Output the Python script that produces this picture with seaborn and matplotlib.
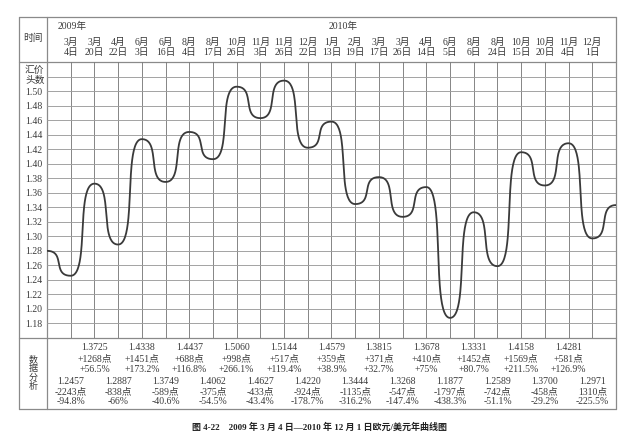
import numpy as np
import matplotlib
matplotlib.use("Agg")
import matplotlib.pyplot as plt
from matplotlib.transforms import blended_transform_factory
import seaborn as sns

# fechas del encabezado
meses = ["3月", "3月", "4月", "6月", "6月", "8月", "8月", "10月", "11月", "11月", "12月",
         "1月", "2月", "3月", "3月", "4月", "6月", "8月", "8月", "10月", "10月", "11月", "12月"]
dias = ["4日", "20日", "22日", "3日", "16日", "4日", "17日", "26日", "3日", "26日", "22日",
        "13日", "19日", "17日", "26日", "14日", "5日", "6日", "24日", "15日", "20日", "4日", "1日"]

# puntos extremos de la curva (posicion -1 y 23 son los bordes del cuadro)
posicion = list(range(-1, 24))
cotizacion = [1.2800, 1.2457, 1.3725, 1.2887, 1.4338, 1.3749, 1.4437, 1.4062, 1.5060,
              1.4627, 1.5144, 1.4220, 1.4579, 1.3444, 1.3815, 1.3268, 1.3678, 1.1877,
              1.3331, 1.2589, 1.4158, 1.3700, 1.4281, 1.2971, 1.3430]

# analisis de datos: maximos (fila de arriba) y minimos (fila de abajo)
alza_puntos = ["+1268点", "+1451点", "+688点", "+998点", "+517点", "+359点", "+371点",
               "+410点", "+1452点", "+1569点", "+581点"]
alza_pct = ["+56.5%", "+173.2%", "+116.8%", "+266.1%", "+119.4%", "+38.9%", "+32.7%",
            "+75%", "+80.7%", "+211.5%", "+126.9%"]
baja_puntos = ["-2243点", "-838点", "-589点", "-375点", "-433点", "-924点", "-1135点",
               "-547点", "-1797点", "-742点", "-458点", "1310点"]
baja_pct = ["-94.8%", "-66%", "-40.6%", "-54.5%", "-43.4%", "-178.7%", "-316.2%",
            "-147.4%", "-438.3%", "-51.1%", "-29.2%", "-225.5%"]

yticks = [1.18, 1.20, 1.22, 1.24, 1.26, 1.28, 1.30, 1.32, 1.34, 1.36, 1.38, 1.40,
          1.42, 1.44, 1.46, 1.48, 1.50, 1.52]

sns.set_theme(style="white")
fuente = ["Liberation Serif", "Noto Sans CJK SC", "DejaVu Sans"]
plt.rcParams["font.family"] = fuente
txt = "#3a3a3a"
linea = "#8a8a8a"


def suavizar(xs, ys, a=0.8, n=50):
    # bezier cubica con tangente horizontal en cada extremo
    t = np.linspace(0, 1, n)
    b = [(1 - t) ** 3, 3 * t * (1 - t) ** 2, 3 * t ** 2 * (1 - t), t ** 3]
    cx, cy = [], []
    for x0, y0, x1, y1 in zip(xs[:-1], ys[:-1], xs[1:], ys[1:]):
        dx = x1 - x0
        px = [x0, x0 + a * dx, x1 - a * dx, x1]
        py = [y0, y0, y1, y1]
        cx.extend(sum(bi * p for bi, p in zip(b, px)))
        cy.extend(sum(bi * p for bi, p in zip(b, py)))
    return np.array(cx), np.array(cy)


W, H = 629, 442
fig = plt.figure(figsize=(W / 100, H / 100), dpi=100)
fondo = fig.add_axes([0, 0, 1, 1], zorder=0)
fondo.set_xlim(0, W)
fondo.set_ylim(H, 0)
fondo.axis("off")

# cuadro de la tabla
x_izq, x_col, x_der = 19, 47, 616
y_sup, y_enc, y_graf, y_inf = 17, 62, 338, 409
for yy in [y_sup, y_enc, y_graf, y_inf]:
    fondo.plot([x_izq, x_der], [yy, yy], color=linea, lw=0.9)
for xx in [x_izq, x_col, x_der]:
    fondo.plot([xx, xx], [y_sup, y_inf], color=linea, lw=0.9)

ax = fig.add_axes([x_col / W, 1 - y_graf / H, (x_der - x_col) / W, (y_graf - y_enc) / H], zorder=1)
ax.patch.set_alpha(0)
ax.set_xlim(-1, 23)
ax.set_ylim(1.16, 1.54)
ax.set_xticks(range(23))
ax.set_xticklabels([])
ax.set_yticks(yticks)
ax.set_yticklabels([f"{v:.2f}" for v in yticks[:-1]] + [""])
ax.tick_params(axis="both", length=0)
ax.tick_params(axis="y", pad=15.8, labelsize=7, labelcolor=txt)
for lab in ax.get_yticklabels():
    lab.set_ha("left")
ax.grid(True, axis="x", color="#7c7c7c", lw=0.65)
ax.grid(True, axis="y", color="#9c9c9c", lw=0.65)
for s in ax.spines.values():
    s.set_visible(False)

cx, cy = suavizar(posicion, cotizacion)
sns.lineplot(x=cx, y=cy, sort=False, estimator=None, ax=ax, color="#3a3a3a", linewidth=1.3)
ax.set_xlabel("")
ax.set_ylabel("")

tr = blended_transform_factory(ax.transData, fondo.transData)

# encabezado
fondo.text(33, 38, "时间", ha="center", va="center", fontsize=7, color=txt)
fondo.text(58, 26, "2009年", ha="left", va="center", fontsize=7, color=txt)
fondo.text(329, 26, "2010年", ha="left", va="center", fontsize=7, color=txt)
for i, (m, d) in enumerate(zip(meses, dias)):
    ax.text(i, 42, m, transform=tr, ha="center", va="center", fontsize=7, color=txt)
    ax.text(i, 52, d, transform=tr, ha="center", va="center", fontsize=7, color=txt)

fondo.text(25, 70, "汇价", ha="left", va="center", fontsize=7, color=txt)
fondo.text(25, 80, "头数", ha="left", va="center", fontsize=7, color=txt)
fondo.text(33, 373, "数\n据\n分\n析", ha="center", va="center", fontsize=6.5,
           linespacing=1.0, color=txt)

# filas del analisis
for k in range(len(alza_puntos)):
    p = 2 * k + 1
    ax.text(p, 348, f"{cotizacion[p + 1]:.4f}", transform=tr, ha="center", va="center", fontsize=7, color=txt)
    ax.text(p, 358.5, alza_puntos[k], transform=tr, ha="center", va="center", fontsize=7, color=txt)
    ax.text(p, 369, alza_pct[k], transform=tr, ha="center", va="center", fontsize=7, color=txt)
for k in range(len(baja_puntos)):
    p = 2 * k
    ax.text(p, 382, f"{cotizacion[p + 1]:.4f}", transform=tr, ha="center", va="center", fontsize=7, color=txt)
    ax.text(p, 392, baja_puntos[k], transform=tr, ha="center", va="center", fontsize=7, color=txt)
    ax.text(p, 401.5, baja_pct[k], transform=tr, ha="center", va="center", fontsize=7, color=txt)

fondo.text(320, 427, "图 4-22　2009 年 3 月 4 日—2010 年 12 月 1 日欧元/美元年曲线图",
           ha="center", va="center", fontsize=6.5, fontweight="bold", color="#222222")

fig.savefig("out.png", dpi=100)
